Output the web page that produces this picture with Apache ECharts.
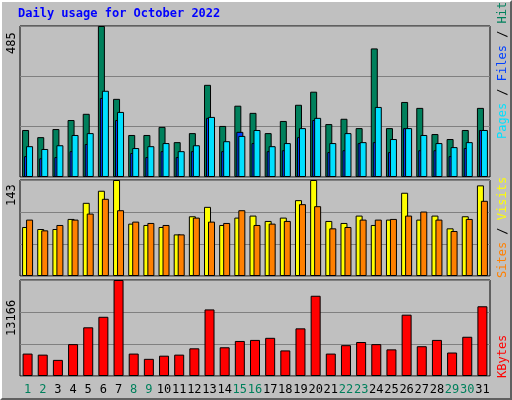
<!DOCTYPE html>
<html><head><meta charset="utf-8">
<script src="https://cdn.jsdelivr.net/npm/echarts@6/dist/echarts.min.js"></script>
<style>html,body{margin:0;padding:0;background:#c0c0c0;}#c{width:512px;height:400px;box-sizing:border-box;border:2px solid;border-color:#fff #606060 #606060 #fff;}</style>
</head><body><div id="c"></div>
<script>
const days = ['1','2','3','4','5','6','7','8','9','10','11','12','13','14','15','16','17','18','19','20','21','22','23','24','25','26','27','28','29','30','31'];
const weekend = ['1','2','8','9','15','16','22','23','29','30'];
const hits  = [151,128,154,183,203,485,251,135,135,161,112,141,296,164,229,206,141,180,232,274,170,187,157,413,157,241,222,138,122,151,222];
const files = [99,90,102,135,141,277,209,93,99,109,83,102,193,115,132,151,99,109,157,190,109,141,112,225,122,157,135,109,96,112,151];
const pages = [67,60,64,83,106,254,183,77,64,83,64,83,190,83,145,109,83,86,128,183,80,86,109,112,80,157,86,86,67,93,151];
const visits= [73,70,70,85,109,127,143,78,76,73,62,89,103,76,87,90,82,87,113,143,82,79,90,76,84,124,84,90,71,89,135];
const sites = [84,68,76,84,93,115,98,81,79,76,62,87,81,79,98,76,78,82,107,104,71,73,84,84,85,90,96,84,67,85,112];
const kbytes= [3075,2931,2210,4373,6679,8120,13166,3075,2354,2787,2931,3796,9130,3940,4805,4949,5237,3508,6535,11004,3075,4228,4661,4373,3652,8409,4084,4949,3219,5382,9562];
const maxHits=485, maxVisits=143, maxK=13166;

const chart = echarts.init(document.getElementById('c'));
const mono = 'DejaVu Sans Mono';
const grids = [
 {left:18,right:20,top:24,height:151},
 {left:18,right:20,top:178,height:96},
 {left:18,right:20,top:278,height:96}
].map(g=>Object.assign(g,{show:true,borderColor:'#000',borderWidth:1,backgroundColor:'#c0c0c0'}));
const xA = (gi, show)=>({type:'category',data:days,gridIndex:gi,axisLine:{show:false},axisTick:{show:false},
  axisLabel:{show:show,fontFamily:mono,fontSize:12,margin:8,interval:0,color:(v)=>weekend.includes(v)?'#00805c':'#000'}});
const yA = (gi,max)=>({type:'value',gridIndex:gi,min:0,max:max,interval:max/3,axisLabel:{show:false},axisLine:{show:false},axisTick:{show:false},splitLine:{lineStyle:{color:'#808080',width:1}}});
const bs = {borderColor:'#000',borderWidth:1};
chart.setOption({
 animation:false,
 grid:grids,
 xAxis:[xA(0,false),xA(0,false),xA(1,false),xA(2,true)],
 yAxis:[yA(0,maxHits),yA(0,maxHits),yA(1,maxVisits),yA(2,maxK)],
 series:[
  {type:'bar',data:hits,xAxisIndex:0,yAxisIndex:0,barWidth:7,barGap:'-43%',itemStyle:Object.assign({color:'#00805c'},bs)},
  {type:'bar',data:pages,xAxisIndex:1,yAxisIndex:1,barWidth:7,itemStyle:Object.assign({color:'#0040ff'},bs)},
  {type:'bar',data:files,xAxisIndex:0,yAxisIndex:0,barWidth:7,barGap:'-43%',itemStyle:Object.assign({color:'#00e0ff'},bs)},
  {type:'bar',data:visits,xAxisIndex:2,yAxisIndex:2,barWidth:7,barGap:'-43%',itemStyle:Object.assign({color:'#ffff00'},bs)},
  {type:'bar',data:sites,xAxisIndex:2,yAxisIndex:2,barWidth:7,barGap:'-43%',itemStyle:Object.assign({color:'#ff8000'},bs)},
  {type:'bar',data:kbytes,xAxisIndex:3,yAxisIndex:3,barWidth:10,itemStyle:Object.assign({color:'#ff0000'},bs)}
 ],
 graphic:[
  {type:'text',left:16,top:6,style:{text:'Daily usage for October 2022',fill:'#0000ff',font:'bold 12px '+mono}},
  {type:'text',x:4,y:52,rotation:Math.PI/2,style:{text:String(maxHits),fill:'#000',font:'12px '+mono}},
  {type:'text',x:4,y:204,rotation:Math.PI/2,style:{text:String(maxVisits),fill:'#000',font:'12px '+mono}},
  {type:'text',x:4,y:334,rotation:Math.PI/2,style:{text:String(maxK),fill:'#000',font:'12px '+mono}},
  {type:'text',x:495,y:137,rotation:Math.PI/2,style:{rich:{p:{fill:'#00e0ff',font:'12px '+mono},f:{fill:'#0040ff',font:'12px '+mono},h:{fill:'#00805c',font:'12px '+mono},s:{fill:'#000',font:'12px '+mono}},text:'{p|Pages}{s| / }{f|Files}{s| / }{h|Hits}'}},
  {type:'text',x:495,y:276,rotation:Math.PI/2,style:{rich:{a:{fill:'#ff8000',font:'12px '+mono},b:{fill:'#ffff00',font:'12px '+mono},s:{fill:'#000',font:'12px '+mono}},text:'{a|Sites}{s| / }{b|Visits}'}},
  {type:'text',x:495,y:376,rotation:Math.PI/2,style:{text:'KBytes',fill:'#ff0000',font:'12px '+mono}}
 ]
});
</script></body></html>
